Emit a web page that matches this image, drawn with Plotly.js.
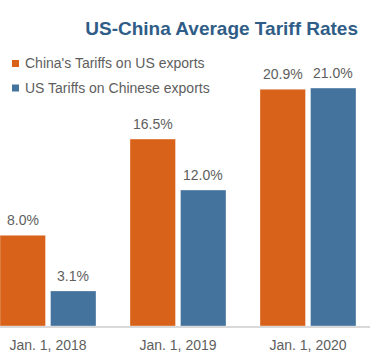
<!DOCTYPE html>
<html>
<head>
<meta charset="utf-8">
<script src="https://cdn.plot.ly/plotly-3.0.1.min.js"></script>
<style>html,body{margin:0;padding:0;background:#fff;}#chart{width:370px;height:361px;}</style>
</head>
<body>
<div id="chart"></div>
<script>
const categories = ["Jan. 1, 2018", "Jan. 1, 2019", "Jan. 1, 2020"];
const seriesNames = ["China's Tariffs on US exports", "US Tariffs on Chinese exports"];
const chinaTariffs = [8.0, 16.5, 20.9];
const usTariffs = [3.1, 12.0, 21.0];
const colors = ["#D8621A", "#44739D"];
const titleText = "US-China Average Tariff Rates";

const W = 370, H = 361;
const plotH = 326;
const pxPerUnit = 130;
const firstCenterPx = 48;
const r0 = -firstCenterPx / pxPerUnit;
const r1 = r0 + W / pxPerUnit;
const yTop = plotH / 11.33;

const xIdx = categories.map((c, i) => i);
const traces = [chinaTariffs, usTariffs].map((vals, k) => ({
  type: 'bar',
  x: xIdx,
  y: vals,
  name: seriesNames[k],
  marker: {color: colors[k], line: {color: 'rgba(255,255,255,0.35)', width: 1}},
  showlegend: false,
  hoverinfo: 'skip'
}));

const textColor = '#5E5E5E';
const annotations = [];
[chinaTariffs, usTariffs].forEach((vals, k) => {
  vals.forEach((v, i) => {
    annotations.push({
      x: i, y: v, xref: 'x', yref: 'y',
      xshift: (k === 0 ? -1 : 1) * 25.25,
      yshift: 5,
      yanchor: 'bottom', xanchor: 'center',
      text: v.toFixed(1) + '%',
      showarrow: false,
      font: {family: 'Liberation Sans, Arial, sans-serif', size: 14, color: textColor}
    });
  });
});
// legend entries
const legendY = [63.5, 88];
const shapes = [];
seriesNames.forEach((n, k) => {
  annotations.push({
    x: 23 / W, y: 1 - legendY[k] / plotH, xref: 'paper', yref: 'paper',
    xanchor: 'left', yanchor: 'middle', showarrow: false,
    text: n,
    font: {family: 'Liberation Sans, Arial, sans-serif', size: 14, color: textColor}
  });
  shapes.push({
    type: 'rect', xref: 'paper', yref: 'paper',
    x0: 12 / W, x1: 19 / W,
    y0: 1 - (legendY[k] - 3.5) / plotH, y1: 1 - (legendY[k] + 3.5) / plotH,
    fillcolor: colors[k], line: {width: 0}
  });
});

const layout = {
  width: W, height: H,
  margin: {l: 0, r: 0, t: 0, b: H - plotH, pad: 0},
  paper_bgcolor: '#fff', plot_bgcolor: '#fff',
  barmode: 'group',
  bargap: 0.223,
  bargroupgap: 0.099,
  title: {
    text: titleText,
    x: 358 / W, xanchor: 'right', xref: 'paper',
    y: 1 - 28 / H, yanchor: 'middle', yref: 'container',
    font: {family: 'Liberation Sans, Arial, sans-serif', size: 19, color: '#2F5D87', weight: 'bold'}
  },
  xaxis: {
    range: [r0, r1],
    tickmode: 'array', tickvals: xIdx, ticktext: categories,
    showline: true, linecolor: '#D9D9D9', linewidth: 2,
    showgrid: false, zeroline: false, ticks: '',
    ticklabelstandoff: 5,
    tickfont: {family: 'Liberation Sans, Arial, sans-serif', size: 14, color: textColor},
    fixedrange: true
  },
  yaxis: {range: [0, yTop], visible: false, showgrid: false, zeroline: false, fixedrange: true},
  annotations: annotations,
  shapes: shapes,
  showlegend: false
};

Plotly.newPlot('chart', traces, layout, {displayModeBar: false, staticPlot: true});
</script>
</body>
</html>
